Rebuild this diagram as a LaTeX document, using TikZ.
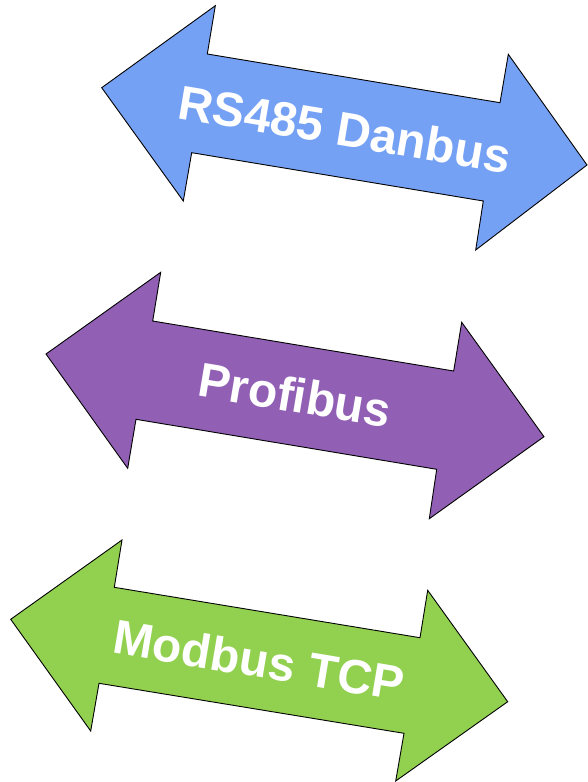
\documentclass[tikz,border=0pt]{standalone}
\usepackage{fontspec}
\setmainfont{Liberation Sans}
\definecolor{arrblue}{RGB}{117,161,245}
\definecolor{arrpurple}{RGB}{145,96,180}
\definecolor{arrgreen}{RGB}{146,208,80}
\begin{document}
\begin{tikzpicture}[x=1pt,y=1pt,
  dblarrow/.style={draw=black,line width=0.9pt,line join=miter},
  lbl/.style={text=white,font=\bfseries\fontsize{48}{48}\selectfont,rotate=-9.5,inner sep=0pt}]
\useasboundingbox (0,0) rectangle (587,-782);
\fill[white] (0,0) rectangle (587,-782);
% blue
\draw[dblarrow,fill=arrblue] (101.7,-87.7) -- (215.3,-5.7) -- (207.3,-54) -- (500,-102.7) -- (508.3,-54.3) -- (587,-165) -- (475.7,-250) -- (483.3,-201) -- (191.7,-152.7) -- (183.3,-201) -- cycle;
\node[lbl] (t1) at (345,-129) {RS485 Danbus};
% purple
\draw[dblarrow,fill=arrpurple] (46,-354) -- (160.7,-272.3) -- (152.7,-321) -- (453.7,-371) -- (461.7,-322.3) -- (544,-436.7) -- (429.3,-518.7) -- (436.7,-469.3) -- (136,-419.3) -- (127.7,-468.3) -- cycle;
\node[lbl] (t2) at (295,-395) {Profibus};
% green
\draw[dblarrow,fill=arrgreen] (10.7,-619.3) -- (122,-540) -- (114.3,-587.3) -- (420,-637.7) -- (427.7,-590.3) -- (507.7,-701.7) -- (395.7,-781) -- (404,-733.3) -- (99,-683.3) -- (90.7,-731) -- cycle;
\node[lbl] (t3) at (259,-660) {Modbus TCP};
\end{tikzpicture}
\end{document}
